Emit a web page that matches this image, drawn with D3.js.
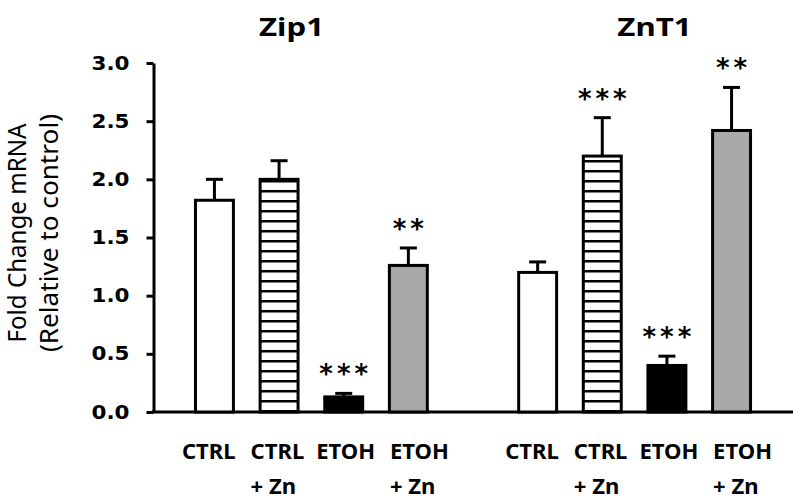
<!DOCTYPE html>
<html>
<head>
<meta charset="utf-8">
<script src="https://cdn.jsdelivr.net/npm/d3@7"></script>
<style>
  body { margin: 0; background: #fff; }
  svg { display: block; }
</style>
</head>
<body>
<div id="chart-area"></div>
<script>
// data
var genes = ["Zip1", "ZnT1"];
var conditions = ["CTRL", "CTRL + Zn", "ETOH", "ETOH + Zn"];
var zip1Means = [1.82, 2.00, 0.13, 1.26];
var zip1Errors = [0.18, 0.16, 0.03, 0.15];
var znt1Means = [1.20, 2.20, 0.40, 2.42];
var znt1Errors = [0.09, 0.33, 0.08, 0.37];
var zip1Stars = ["", "", "***", "**"];
var znt1Stars = ["", "***", "***", "**"];
var yTicks = [0, 0.5, 1.0, 1.5, 2.0, 2.5, 3.0];

var width = 800;
var height = 502;

var fills = ["#ffffff", "url(#stripes)", "#000000", "#a9a9a9"];
// label boxes are left aligned, nudged from the bar's left edge
var labelShift = [-12, -8, -7, 2];

// build rows, one slot left empty between the two genes
var rows = [];
var slots = [];
genes.forEach((gene, gi) => {
    var means = gi == 0 ? zip1Means : znt1Means;
    var errs = gi == 0 ? zip1Errors : znt1Errors;
    var stars = gi == 0 ? zip1Stars : znt1Stars;
    conditions.forEach((c, ci) => {
        var key = gene + "|" + c;
        slots.push(key);
        rows.push({key: key, gene: gene, cond: c, ci: ci, mean: means[ci], err: errs[ci], star: stars[ci]});
    });
    if (gi == 0) slots.push("gap");
});

var svg = d3.select("#chart-area")
    .append("svg")
    .attr("width", width)
    .attr("height", height);

var defs = svg.append("defs");
var pat = defs.append("pattern")
    .attr("id", "stripes")
    .attr("patternUnits", "userSpaceOnUse")
    .attr("width", 10)
    .attr("height", 10);
pat.append("rect").attr("width", 10).attr("height", 10).attr("fill", "#fff");
pat.append("rect").attr("y", 0).attr("width", 10).attr("height", 2.5).attr("fill", "#000");

var x = d3.scaleBand()
    .domain(slots)
    .range([153, 793])
    .paddingInner(0.413)
    .paddingOuter(0.657);

var y = d3.scaleLinear()
    .domain([0, 3])
    .range([412, 63]);

// y axis
var yAxis = d3.axisLeft(y)
    .tickValues(yTicks)
    .tickSize(7)
    .tickSizeOuter(0)
    .tickPadding(17)
    .tickFormat(d3.format(".1f"));

var yAxisGroup = svg.append("g")
    .attr("transform", "translate(153.5,0)")
    .call(yAxis);
yAxisGroup.select(".domain").attr("stroke", "#000").attr("stroke-width", 3);
yAxisGroup.selectAll(".tick line").attr("stroke", "#000").attr("stroke-width", 3);
yAxisGroup.selectAll(".tick text")
    .attr("font-family", "DejaVu Sans")
    .attr("font-weight", "bold")
    .attr("font-size", "19px")
    .attr("fill", "#000")
    .attr("textLength", 38)
    .attr("lengthAdjust", "spacingAndGlyphs");

// baseline
svg.append("line")
    .attr("x1", 152)
    .attr("x2", 793)
    .attr("y1", y(0))
    .attr("y2", y(0))
    .attr("stroke", "#000")
    .attr("stroke-width", 3);

// error bars (upper only)
var eb = svg.selectAll(".err").data(rows).enter().append("g").attr("class", "err");
eb.append("line")
    .attr("x1", d => x(d.key) + x.bandwidth() / 2)
    .attr("x2", d => x(d.key) + x.bandwidth() / 2)
    .attr("y1", d => y(d.mean))
    .attr("y2", d => y(d.mean + d.err))
    .attr("stroke", "#000")
    .attr("stroke-width", 3);
eb.append("line")
    .attr("x1", d => x(d.key) + x.bandwidth() / 2 - 8.5)
    .attr("x2", d => x(d.key) + x.bandwidth() / 2 + 8.5)
    .attr("y1", d => y(d.mean + d.err))
    .attr("y2", d => y(d.mean + d.err))
    .attr("stroke", "#000")
    .attr("stroke-width", 3);

// bars
svg.selectAll(".bar").data(rows).enter().append("rect")
    .attr("class", "bar")
    .attr("x", d => x(d.key))
    .attr("y", d => y(d.mean))
    .attr("width", x.bandwidth())
    .attr("height", d => y(0) - y(d.mean))
    .attr("fill", d => fills[d.ci])
    .attr("stroke", "#000")
    .attr("stroke-width", 3);

// significance stars
svg.selectAll(".star").data(rows.filter(d => d.star != "")).enter().append("text")
    .attr("class", "star")
    .attr("x", d => x(d.key) + x.bandwidth() / 2 + 2)
    .attr("y", d => y(d.mean + d.err) - 10)
    .attr("text-anchor", "middle")
    .attr("font-family", "DejaVu Sans")
    .attr("font-weight", "bold")
    .attr("font-size", "26px")
    .attr("letter-spacing", "4px")
    .text(d => d.star);

// category labels
var lab = svg.selectAll(".cat").data(rows).enter().append("text")
    .attr("class", "cat")
    .attr("transform", d => "translate(" + (x(d.key) - 1.5 + labelShift[d.ci]) + ",0) scale(1.05,1)")
    .attr("text-anchor", "start")
    .attr("font-family", "Noto Sans")
    .attr("font-weight", "bold")
    .attr("font-size", "21px");
lab.each(function(d) {
    var parts = d.cond.split(" + ");
    var t = d3.select(this);
    t.append("tspan").attr("x", 0).attr("y", 459).text(parts[0]);
    if (parts.length > 1) t.append("tspan").attr("x", 0).attr("y", 494).text("+ " + parts[1]);
});

// gene titles
var titleX = [291.5, 654.5];
svg.selectAll(".title").data(genes).enter().append("text")
    .attr("class", "title")
    .attr("transform", (d, i) => "translate(" + titleX[i] + ",36) scale(1.25,1)")
    .attr("text-anchor", "middle")
    .attr("font-family", "Noto Sans")
    .attr("font-weight", "bold")
    .attr("font-size", "25px")
    .text(d => d);

// y label
var yl = svg.append("text")
    .attr("transform", "translate(0,233) rotate(-90)")
    .attr("text-anchor", "middle")
    .attr("font-family", "Noto Sans")
    .attr("font-size", "25px");
yl.append("tspan").attr("x", 0).attr("y", 26).attr("textLength", 219).attr("lengthAdjust", "spacingAndGlyphs").text("Fold Change mRNA");
yl.append("tspan").attr("x", 0).attr("y", 58).attr("textLength", 238).attr("lengthAdjust", "spacingAndGlyphs").text("(Relative to control)");
</script>
</body>
</html>
